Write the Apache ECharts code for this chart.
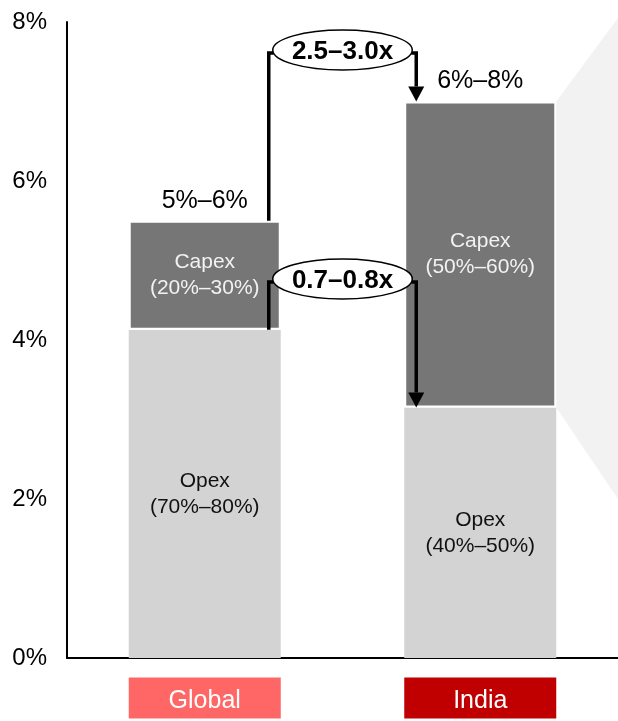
<!DOCTYPE html>
<html><head><meta charset="utf-8">
<script src="https://cdn.jsdelivr.net/npm/echarts@6/dist/echarts.min.js"></script>
<style>html,body{margin:0;padding:0;background:#fff}#c{width:618px;height:721px}</style>
</head><body><div id="c"></div>
<script>
const categories = ['Global', 'India'];
const categoryColors = ['#FF6666', '#C00000'];
const opexValues = [4.13, 3.15];
const capexValues = [1.37, 3.85];
const totalLabels = ['5%–6%', '6%–8%'];
const opexShares = ['(70%–80%)', '(40%–50%)'];
const capexShares = ['(20%–30%)', '(50%–60%)'];
const multipleLabels = ['2.5–3.0x', '0.7–0.8x'];
const yTicks = [0, 2, 4, 6, 8];

const FONT = "'Liberation Sans', Arial, sans-serif";
const totals = opexValues.map((v, i) => v + capexValues[i]);
// bracket 0 compares totals, bracket 1 compares opex
const bracketFrom = [totals[0], opexValues[0]];
const bracketTo = [totals[1], opexValues[1]];
const bracketLevel = [7.61, 4.73];

const chart = echarts.init(document.getElementById('c'), null, {renderer: 'canvas'});
const BAR_W = 152;

const boxStyle = (c) => ({backgroundColor: c, color: '#fff', width: 152, height: 34, lineHeight: 34,
  padding: [7, 0, 0, 0], fontSize: 25, fontFamily: FONT, align: 'center'});

const option = {
  animation: false,
  backgroundColor: '#fff',
  grid: {left: 67, right: 0, top: 22, bottom: 63, outerBoundsMode: 'none'},
  xAxis: {
    type: 'category',
    data: categories,
    axisLine: {show: true, lineStyle: {color: '#000', width: 2}},
    axisTick: {show: false},
    splitLine: {show: false},
    axisLabel: {
      margin: 23,
      formatter: (v) => '{c' + categories.indexOf(v) + '|' + v + '}',
      rich: {c0: boxStyle(categoryColors[0]), c1: boxStyle(categoryColors[1])}
    }
  },
  yAxis: {
    type: 'value',
    min: yTicks[0], max: yTicks[yTicks.length - 1], interval: 2,
    axisLine: {show: true, lineStyle: {color: '#000', width: 2}},
    axisTick: {show: false},
    splitLine: {show: false},
    axisLabel: {formatter: '{value}%', fontSize: 24, color: '#000', margin: 20, fontFamily: FONT}
  },
  series: [
    {
      type: 'custom', z: 0, silent: true, clip: false,
      data: [[1, 0]],
      renderItem(params, api) {
        const cs = params.coordSys;
        const top = api.coord([1, totals[1]]);
        const bot = api.coord([1, opexValues[1]]);
        const right = cs.x + cs.width;
        const half = BAR_W / 2;
        return {type: 'polygon', shape: {points: [
          [top[0] + half, top[1]], [right, cs.y - 4], [right, api.coord([1, 2])[1]], [bot[0] + half, bot[1]]
        ]}, style: {fill: '#F2F2F2'}};
      }
    },
    {
      name: 'Opex', type: 'bar', stack: 'a', barWidth: BAR_W, z: 2,
      data: opexValues,
      itemStyle: {color: '#D3D3D3'},
      label: {show: true, position: 'inside', color: '#111', fontSize: 21, lineHeight: 26, fontFamily: FONT,
        formatter: (p) => 'Opex\n' + opexShares[p.dataIndex]}
    },
    {
      name: 'Capex', type: 'bar', stack: 'a', barWidth: BAR_W, z: 2,
      data: capexValues,
      itemStyle: {color: '#767676', borderColor: '#fff', borderWidth: 2},
      label: {show: true, position: 'inside', color: '#F2F2F2', fontSize: 21, lineHeight: 26, fontFamily: FONT,
        formatter: (p) => 'Capex\n' + capexShares[p.dataIndex]}
    },
    {
      type: 'custom', z: 5, silent: true, clip: false,
      data: [[0, 0], [1, 0]],
      renderItem(params, api) {
        const i = params.dataIndex;
        const p = api.coord([i, totals[i]]);
        return {type: 'text', style: {text: totalLabels[i], x: p[0], y: p[1] - 20, align: 'center', verticalAlign: 'middle',
          font: '25px ' + FONT, fill: '#000'}};
      }
    },
    {
      type: 'custom', z: 6, silent: true, clip: false,
      data: [[0, 0], [1, 0]],
      renderItem(params, api) {
        const i = params.dataIndex;
        const a = api.coord([0, bracketFrom[i]]);
        const b = api.coord([1, bracketTo[i]]);
        const lv = api.coord([0, bracketLevel[i]])[1];
        const xL = a[0] + 64, xR = b[0] - 64;
        const cx = (xL + xR) / 2, rx = (xR - xL) / 2 - 4, ry = 20;
        const ah = 15, aw = 8;
        const ls = {stroke: '#000', lineWidth: 3.5, fill: 'none'};
        return {type: 'group', children: [
          {type: 'polyline', shape: {points: [[xL, a[1]], [xL, lv], [cx - rx + 1, lv]]}, style: ls},
          {type: 'polyline', shape: {points: [[cx + rx - 1, lv], [xR, lv], [xR, b[1] - ah]]}, style: ls},
          {type: 'polygon', shape: {points: [[xR - aw, b[1] - ah], [xR + aw, b[1] - ah], [xR, b[1]]]}, style: {fill: '#000'}},
          {type: 'ellipse', shape: {cx: cx, cy: lv - 3, rx: rx, ry: ry}, style: {fill: '#fff', stroke: '#000', lineWidth: 1.5}},
          {type: 'text', style: {text: multipleLabels[i], x: cx, y: lv - 1, align: 'center', verticalAlign: 'middle',
            font: 'bold 26px ' + FONT, fill: '#000'}}
        ]};
      }
    }
  ]
};
chart.setOption(option);
</script>
</body></html>
